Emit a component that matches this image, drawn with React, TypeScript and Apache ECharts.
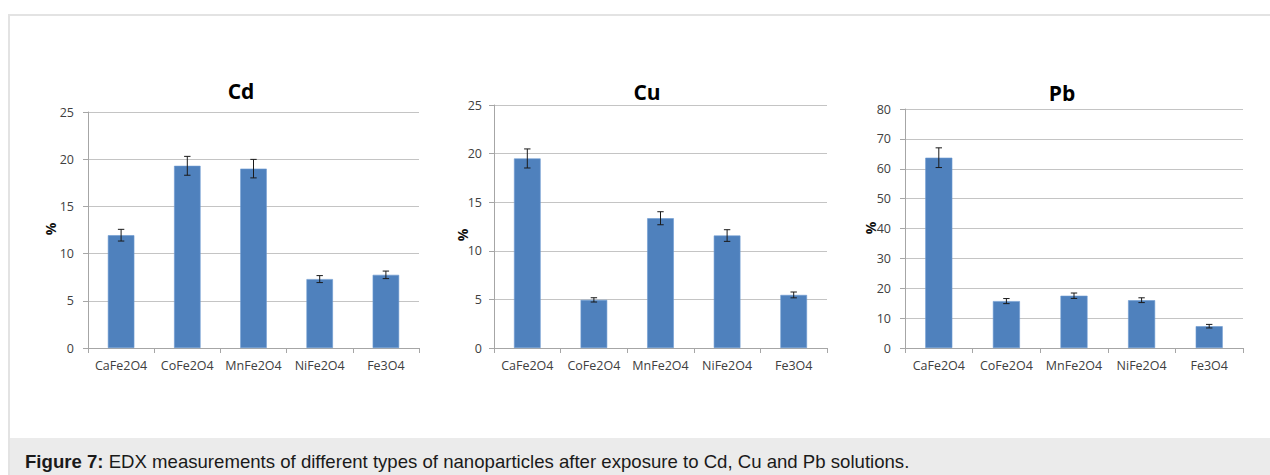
import React, { useEffect, useRef } from "react";
import * as echarts from "echarts";

const categories = ["CaFe2O4", "CoFe2O4", "MnFe2O4", "NiFe2O4", "Fe3O4"];

const cdValues = [11.95, 19.3, 19.0, 7.3, 7.75];
const cdErrors = [0.62, 1.0, 0.98, 0.37, 0.4];

const cuValues = [19.5, 4.95, 13.35, 11.57, 5.46];
const cuErrors = [0.98, 0.22, 0.67, 0.6, 0.3];

const pbValues = [63.7, 15.7, 17.5, 16.0, 7.3];
const pbErrors = [3.3, 0.85, 0.9, 0.8, 0.6];

const panelTitles = ["Cd", "Cu", "Pb"];
const yMaxes = [25, 25, 80];
const yIntervals = [5, 5, 10];
const yAxisName = "%";

const captionBold = "Figure 7:";
const captionRest = " EDX measurements of different types of nanoparticles after exposure to Cd, Cu and Pb solutions.";

const BAR = "#4F81BD";
const GRID = "#c4c4c4";
const AXIS = "#a6a6a6";
const LABEL = "#404040";
const FONT = "'Open Sans', sans-serif";
const CAPFONT = "'Liberation Sans', Arial, sans-serif";

export default function App() {
  const ref = useRef<HTMLDivElement>(null);

  useEffect(() => {
    if (!ref.current) return;
    const chart = echarts.init(ref.current, undefined, { renderer: "svg" });

    const grids = [
      { left: 88, top: 112, width: 331, height: 236 },
      { left: 494, top: 105, width: 333, height: 243 },
      { left: 905, top: 109, width: 338, height: 239 },
    ];
    const labelMargins = [14, 12, 14];
    const titlePos = [
      { x: 236, y: 90 },
      { x: 642, y: 91 },
      { x: 1057, y: 92 },
    ];
    const pctPos = [
      { x: 50, y: 229 },
      { x: 462, y: 235 },
      { x: 870, y: 228 },
    ];
    const allValues = [cdValues, cuValues, pbValues];
    const allErrors = [cdErrors, cuErrors, pbErrors];

    const series: any[] = [];
    allValues.forEach((vals, k) => {
      series.push({
        type: "bar",
        xAxisIndex: k,
        yAxisIndex: k,
        data: vals,
        barWidth: "40%",
        itemStyle: { color: BAR, borderColor: "#6d9bd2", borderWidth: 0.6 },
        z: 2,
      });
      series.push({
        type: "custom",
        xAxisIndex: k,
        yAxisIndex: k,
        z: 5,
        data: vals.map((v, i) => [i, v - allErrors[k][i], v + allErrors[k][i]]),
        renderItem: (params: any, api: any) => {
          const idx = api.value(0);
          const top = api.coord([idx, api.value(2)]);
          const bot = api.coord([idx, api.value(1)]);
          const hw = 3.2;
          const st = { stroke: "#1a1a1a", lineWidth: 1 };
          return {
            type: "group",
            children: [
              { type: "line", shape: { x1: top[0], y1: top[1], x2: bot[0], y2: bot[1] }, style: st },
              { type: "line", shape: { x1: top[0] - hw, y1: top[1], x2: top[0] + hw, y2: top[1] }, style: st },
              { type: "line", shape: { x1: bot[0] - hw, y1: bot[1], x2: bot[0] + hw, y2: bot[1] }, style: st },
            ],
          };
        },
      });
    });

    const graphics: any[] = [
      { type: "rect", shape: { x: 10, y: 438, width: 1260, height: 37 }, style: { fill: "#ebebeb" }, silent: true },
      { type: "line", shape: { x1: 8, y1: 15, x2: 1270, y2: 15 }, style: { stroke: "#e3e3e3", lineWidth: 2 } },
      { type: "line", shape: { x1: 9, y1: 14, x2: 9, y2: 475 }, style: { stroke: "#e3e3e3", lineWidth: 2 } },
      {
        type: "text",
        x: 25,
        y: 461,
        style: {
          text: "{b|" + captionBold + "}" + captionRest,
          fontFamily: CAPFONT,
          fontSize: 18.6,
          fill: "#1a1a1a",
          verticalAlign: "middle",
          rich: { b: { fontWeight: "bold", fontSize: 18.6, fontFamily: CAPFONT, fill: "#1a1a1a" } },
        },
      },
    ];
    pctPos.forEach((p) => {
      graphics.push({
        type: "text",
        x: p.x,
        y: p.y,
        rotation: Math.PI / 2,
        style: {
          text: yAxisName,
          fontFamily: FONT,
          fontWeight: "bold",
          fontSize: 14,
          fill: "#111",
          align: "center",
          verticalAlign: "middle",
        },
      });
    });

    chart.setOption({
      animation: false,
      title: panelTitles.map((t, k) => ({
        text: t,
        left: titlePos[k].x,
        top: titlePos[k].y - 15,
        textAlign: "center",
        textStyle: { fontFamily: FONT, fontWeight: "bold", fontSize: 21, color: "#000" },
      })),
      grid: grids,
      xAxis: grids.map((_, k) => ({
        type: "category",
        gridIndex: k,
        data: categories,
        axisLine: { lineStyle: { color: AXIS } },
        axisTick: { show: true, length: 5, lineStyle: { color: AXIS } },
        axisLabel: { color: LABEL, fontFamily: FONT, fontSize: 12.5, margin: 11, interval: 0 },
      })),
      yAxis: grids.map((_, k) => ({
        type: "value",
        gridIndex: k,
        min: 0,
        max: yMaxes[k],
        interval: yIntervals[k],
        axisLine: { show: true, lineStyle: { color: AXIS } },
        axisTick: { show: true, length: 5, lineStyle: { color: AXIS } },
        splitLine: { show: true, lineStyle: { color: GRID } },
        axisLabel: { color: LABEL, fontFamily: FONT, fontSize: 12.5, margin: labelMargins[k] },
      })),
      series,
      graphic: graphics,
    });

    return () => chart.dispose();
  }, []);

  return (
    <div
      ref={ref}
      style={{ position: "fixed", left: 0, top: 0, width: 1270, height: 475, background: "#fff" }}
    />
  );
}
